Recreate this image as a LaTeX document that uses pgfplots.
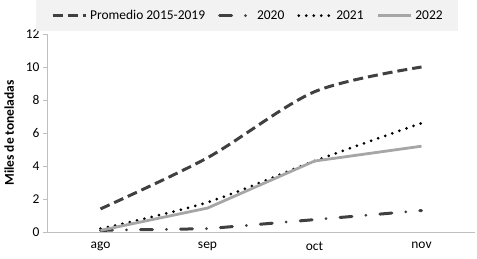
\documentclass[border=0pt]{standalone}
\usepackage{pgfplots}
\pgfplotsset{compat=1.18}
\usepackage{fontspec}
\setmainfont{Carlito}
\definecolor{dg}{HTML}{404040}
\definecolor{lg}{HTML}{A6A6A6}
\definecolor{ax}{HTML}{BFBFBF}
\definecolor{lgbg}{HTML}{F2F2F2}
\begin{document}
\begin{tikzpicture}
\begin{axis}[
  name=ax,
  scale only axis,
  width=428bp, height=198bp,
  xmin=0, xmax=4, ymin=0, ymax=12,
  ytick={0,2,...,12},
  xtick={0.5,1.5,2.5,3.5},
  xticklabels={ago,sep,oct,nov},
  extra x ticks={0,1,2,3,4},
  extra x tick labels={},
  extra x tick style={major tick length=4bp, tick style={ax}},
  major x tick style={draw=none},
  major tick length=4bp,
  tick style={ax, line width=0.8pt},
  axis x line=bottom, axis y line=left,
  axis line style={ax, line width=1pt, -},
  tick align=outside,
  ticklabel style={font=\fontsize{13.5}{15}\selectfont, text=black},
  /pgf/number format/assume math mode=true,
  ylabel={\bfseries Miles de toneladas},
  ylabel style={font=\fontsize{13.5}{15}\selectfont, yshift=5bp},
  xticklabel style={yshift=-2bp},
  legend columns=4,
  legend style={at={(0.960,1.1717)}, anchor=north east, fill=lgbg, draw=none,
    font=\fontsize{13.5}{15}\selectfont, inner xsep=15bp, inner ysep=8bp,
    nodes={inner xsep=0pt, inner ysep=2bp},
    /tikz/every odd column/.append style={column sep=3bp},
    /tikz/every even column/.append style={column sep=13bp}},
  legend cell align=left,
  legend image code/.code={\draw[#1] (0bp,0bp) -- (33bp,0bp);},
  clip=false,
]
\addplot[dg, line width=3bp, dash pattern=on 10bp off 5bp, smooth] coordinates {(0.5,1.4) (1.5,4.5) (2.5,8.5) (3.5,10.0)};
\addlegendentry{Promedio 2015-2019}
\addplot[dg, line width=3bp, dash pattern=on 12bp off 14bp on 0bp off 14bp, line cap=round] coordinates {(0.5,0.1) (1.5,0.2) (2.5,0.75) (3.5,1.3)};
\addlegendentry{2020}
\addplot[black, line width=3bp, dash pattern=on 0bp off 7.5bp, line cap=round, smooth] coordinates {(0.5,0.2) (1.5,1.8) (2.5,4.3) (3.5,6.6)};
\addlegendentry{2021}
\addplot[lg, line width=2.8bp] coordinates {(0.5,0.1) (1.5,1.45) (2.5,4.3) (3.5,5.2)};
\addlegendentry{2022}
\end{axis}
\pgfresetboundingbox
\path ([xshift=-47bp,yshift=-27bp]ax.south west) rectangle ([xshift=2bp,yshift=34bp]ax.north east);
\end{tikzpicture}
\end{document}
